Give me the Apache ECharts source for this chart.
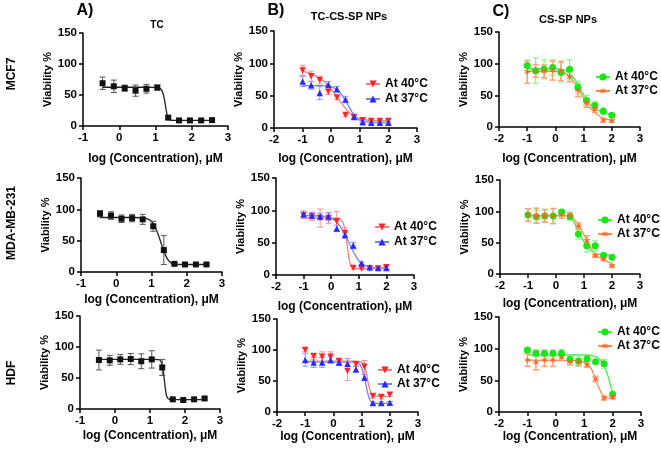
<!DOCTYPE html>
<html><head><meta charset="utf-8">
<script src="https://cdn.jsdelivr.net/npm/echarts@6/dist/echarts.min.js"></script>
<style>html,body{margin:0;padding:0;background:#fff}#c{width:661px;height:449px}</style>
</head><body><div id="c"></div>
<script>
// log concentrations
const xTC = [-0.46,-0.15,0.15,0.45,0.75,1.05,1.35,1.65,1.95,2.26,2.56];
const xNP = [-1,-0.7,-0.4,-0.1,0.2,0.5,0.8,1.1,1.4,1.7,2.0];
const yTicks = [0,50,100,150];

// Column A: TC
const tcMcf7 = [69,64,61,57,60,62,13.5,9,9,9,9.5];
const tcMcf7Err = [10,10,5,9,7,4,3,1,1,1,1];
const tcMcf7Fit = [[-0.46,62.5],[0.5,62.5],[1.0,62.4],[1.1,61.5],[1.17,58],[1.22,50],[1.26,38],[1.3,24],[1.34,14],[1.4,10],[1.5,9.2],[2.0,9],[2.6,9]];
const tcMda = [93,90,85,86,84,73,35,13,12,12,12];
const tcMdaErr = [5,6,6,6,8,8,23,1,1,1,1];
const tcMdaFit = [[-0.46,87],[0.5,87],[0.8,86],[0.95,83],[1.05,77],[1.15,66],[1.25,50],[1.35,33],[1.45,21],[1.55,15],[1.65,13],[1.8,12],[2.6,12]];
const tcHdf = [79,78.5,80,80.6,77,80,67,15.6,14.5,15.6,17];
const tcHdfErr = [16,8,8,9,12,14,13,1,1,1,1];
const tcHdfFit = [[-0.46,80],[1.0,80],[1.25,79.5],[1.3,78],[1.35,71],[1.4,52],[1.44,32],[1.48,20],[1.55,15.5],[1.7,15],[2.6,15]];

// Column B: TC-CS-SP NPs
const bMcf7At40 = [89,80,74,56,47,20,17,12,11,11,11];
const bMcf7At40Err = [8,8,6,4,3,2,2,3,3,3,3];
const bMcf7At40Fit = [[-1,88],[-0.7,84],[-0.4,77],[-0.2,70],[0,60],[0.2,48],[0.4,36],[0.6,25],[0.8,18],[1.0,14],[1.3,12],[2.0,11]];
const bMcf7At37 = [72,66,54,67,60,44,17,9,8,8,8];
const bMcf7At37Err = [8,6,10,5,4,5,2,2,2,2,2];
const bMcf7At37Fit = [[-1,65.5],[-0.4,65.5],[-0.1,65],[0.1,62],[0.3,55],[0.45,46],[0.6,35],[0.75,23],[0.9,15],[1.05,11],[1.3,9],[2.0,8]];
const bMdaAt40 = [92,90.5,88,88,83,65,11,10,10,10,12];
const bMdaAt40Err = [5,6,14,8,15,8,2,2,2,2,3];
const bMdaAt40Fit = [[-1,88],[0.2,88],[0.35,86],[0.45,78],[0.52,65],[0.58,45],[0.64,27],[0.7,16],[0.78,11.5],[0.9,10],[2.0,10]];
const bMdaAt37 = [94,92,90.5,90.5,72,62,45.5,18,12,11,11];
const bMdaAt37Err = [5,5,5,6,5,4,5,2,2,2,2];
const bMdaAt37Fit = [[-1,92],[-0.4,91],[0,88],[0.2,82],[0.4,70],[0.55,58],[0.7,45],[0.85,32],[1.0,22],[1.2,15],[1.5,11.5],[2.0,11]];
const bHdfAt40 = [100,90,89,89,82,66,77,73,26,24,28];
const bHdfAt40Err = [3,5,8,8,5,15,3,10,3,3,3];
const bHdfAt40Fit = [[-1,82],[0.8,82],[1.0,80],[1.1,74],[1.18,60],[1.25,43],[1.32,32],[1.4,27],[1.55,25.5],[2.0,25]];
const bHdfAt37 = [84,80,80,84,80,78,69,55.6,14.6,14.6,15];
const bHdfAt37Err = [10,8,8,5,5,8,5,5,2,2,2];
const bHdfAt37Fit = [[-1,81],[0.7,80.5],[0.9,78],[1.0,72],[1.08,60],[1.15,45],[1.22,30],[1.3,19],[1.38,15],[1.5,14],[2.0,14]];

// Column C: CS-SP NPs
const cMcf7At40 = [97,89,91,94,86,91,62.5,42,34,25,18.5];
const cMcf7At40Err = [8,20,15,12,15,15,10,8,6,5,3];
const cMcf7At40Fit = [[-1,92],[0,92],[0.3,90],[0.5,85],[0.7,74],[0.85,62],[1.0,51],[1.15,41],[1.3,33],[1.5,27],[1.7,23],[2.0,20]];
const cMcf7At37 = [87,88.5,88,89,88.5,79.5,58,38,28,10.6,9.5];
const cMcf7At37Err = [18,10,10,15,15,8,10,7,5,3,2];
const cMcf7At37Fit = [[-1,88],[0,88],[0.3,86],[0.5,80],[0.7,68],[0.85,57],[1.0,46],[1.15,36],[1.3,27],[1.5,19],[1.7,14],[2.0,10]];
const cMdaAt40 = [94,91.5,92.5,92.5,99,91.5,64,45,45,30,26.6];
const cMdaAt40Err = [10,10,10,12,3,5,8,10,8,2,2];
const cMdaAt40Fit = [[-1,93],[0.3,93],[0.5,90],[0.65,82],[0.8,68],[0.95,55],[1.1,44],[1.25,37],[1.4,33],[1.6,31],[2.0,30]];
const cMdaAt37 = [94,93,93,92.5,94,93,76.6,53,29,24.5,13];
const cMdaAt37Err = [10,12,10,12,5,5,5,8,2,3,2];
const cMdaAt37Fit = [[-1,93],[0.4,93],[0.6,89],[0.8,79],[0.95,67],[1.1,54],[1.25,42],[1.4,32],[1.55,26],[1.75,21],[2.0,17]];
const cHdfAt40 = [98,92.7,92.7,92.7,92.7,83,80.5,83.7,79.5,76,28];
const cHdfAt40Err = [3,5,5,5,6,5,8,2,3,7,3];
const cHdfAt40Fit = [[-1,90],[1.0,90],[1.3,89],[1.5,85],[1.65,78],[1.75,68],[1.85,55],[1.95,38],[2.03,27]];
const cHdfAt37 = [82,78.4,82,82,86,79.5,78.4,74,52,22,23];
const cHdfAt37Err = [10,12,10,10,5,5,5,3,4,3,2];
const cHdfAt37Fit = [[-1,82],[0.7,81.5],[0.9,80],[1.1,76],[1.25,68],[1.35,58],[1.45,46],[1.55,35],[1.65,27],[1.8,22.5],[2.03,21]];

const FONT = 'Liberation Sans, Arial, sans-serif';
const STY = {
  tc:     {mk:'#111111', fit:'#222222', err:'#555555', sym:'rect', size:6, ew:1},
  red:    {mk:'#ff2626', fit:'#ff7a7a', err:'#ff8f8f', sym:'path://M0,0L10,0L5,9Z', size:6.5, ew:1},
  blue:   {mk:'#2a2aff', fit:'#6f86ff', err:'#8a96ff', sym:'path://M5,0L10,9L0,9Z', size:6.5, ew:1},
  green:  {mk:'#17e617', fit:'#45ee45', err:'#8cf58c', sym:'circle', size:7, ew:1.2},
  orange: {mk:'#ff6322', fit:'#ff8a4a', err:'#ffa57a', sym:'path://M5,0L6,3.6L10,2L7,5L10,8L6,6.4L5,10L4,6.4L0,8L3,5L0,2L4,3.6Z', size:7, ew:1.6}
};

const panels = [
  {g:[83,33,145,93],  xr:[-1,3], yGap:28.5, xGap:27, sets:[['tc',xTC,tcMcf7,tcMcf7Err,tcMcf7Fit,null]]},
  {g:[274,31,143,97], xr:[-2,3], yGap:24.5, xGap:25, leg:[365,78,3], sets:[['red',xNP,bMcf7At40,bMcf7At40Err,bMcf7At40Fit,'At 40°C'],['blue',xNP,bMcf7At37,bMcf7At37Err,bMcf7At37Fit,'At 37°C']]},
  {g:[499,32,141,95], xr:[-2,3], yGap:24.5, xGap:26, leg:[595,71,2], sets:[['green',xNP,cMcf7At40,cMcf7At40Err,cMcf7At40Fit,'At 40°C'],['orange',xNP,cMcf7At37,cMcf7At37Err,cMcf7At37Fit,'At 37°C']]},
  {g:[81,178,141,94], xr:[-1,3], yGap:24.5, xGap:22, sets:[['tc',xTC,tcMda,tcMdaErr,tcMdaFit,null]]},
  {g:[276,178,138,97],xr:[-2,3], yGap:24.5, xGap:26, leg:[374,221,3], sets:[['red',xNP,bMdaAt40,bMdaAt40Err,bMdaAt40Fit,'At 40°C'],['blue',xNP,bMdaAt37,bMdaAt37Err,bMdaAt37Fit,'At 37°C']]},
  {g:[500,180,140,94],xr:[-2,3], yGap:26.5, xGap:24, leg:[597,214,2], sets:[['green',xNP,cMdaAt40,cMdaAt40Err,cMdaAt40Fit,'At 40°C'],['orange',xNP,cMdaAt37,cMdaAt37Err,cMdaAt37Fit,'At 37°C']]},
  {g:[80,316,140,93], xr:[-1,3], yGap:24.5, xGap:21, sets:[['tc',xTC,tcHdf,tcHdfErr,tcHdfFit,null]]},
  {g:[277,319,141,93],xr:[-2,3], yGap:27.5, xGap:19, leg:[377,364,2], sets:[['red',xNP,bHdfAt40,bHdfAt40Err,bHdfAt40Fit,'At 40°C'],['blue',xNP,bHdfAt37,bHdfAt37Err,bHdfAt37Fit,'At 37°C']]},
  {g:[499,317,142,95],xr:[-2,3], yGap:27.5, xGap:18, leg:[597,326,2], sets:[['green',xNP,cHdfAt40,cHdfAt40Err,cHdfAt40Fit,'At 40°C'],['orange',xNP,cHdfAt37,cHdfAt37Err,cHdfAt37Fit,'At 37°C']]}
];

const grid=[], xAxis=[], yAxis=[], series=[], legend=[];
const axLine = {show:true, onZero:false, lineStyle:{color:'#000', width:1.5}};
const axTick = {show:true, inside:false, length:4, lineStyle:{color:'#000', width:1.5}};
const lbl = {color:'#000', fontWeight:'bold', fontSize:11.5, fontFamily:FONT};
const ttl = {color:'#000', fontWeight:'bold', fontSize:12, fontFamily:FONT};
const ttlY = {color:'#000', fontWeight:'bold', fontSize:11, fontFamily:FONT};

panels.forEach((p,i)=>{
  grid.push({left:p.g[0], top:p.g[1], width:p.g[2], height:p.g[3], containLabel:false});
  xAxis.push({type:'value', gridIndex:i, min:p.xr[0], max:p.xr[1], interval:1,
    axisLine:axLine, axisTick:axTick, splitLine:{show:false},
    axisLabel:Object.assign({margin:6}, lbl),
    name:'log (Concentration), μM', nameLocation:'middle', nameGap:p.xGap, nameTextStyle:ttl});
  yAxis.push({type:'value', gridIndex:i, min:0, max:150, interval:50,
    axisLine:axLine, axisTick:axTick, splitLine:{show:false},
    axisLabel:Object.assign({margin:6}, lbl),
    name:'Viability %', nameLocation:'middle', nameGap:p.yGap, nameRotate:90, nameTextStyle:ttlY});
  const names=[];
  p.sets.forEach(s=>{
    const st = STY[s[0]];
    const xs=s[1], vs=s[2], es=s[3];
    const lname = s[5] ? s[5] + ' '.repeat(i) : undefined;
    if (lname) names.push(lname);
    series.push({type:'line', name:lname, xAxisIndex:i, yAxisIndex:i, data:s[4],
      smooth:0.3, showSymbol:false, symbol:st.sym, symbolSize:st.size,
      itemStyle:{color:st.mk}, lineStyle:{color:st.fit, width:1.3}, z:2, silent:true, animation:false});
    const errColor = st.err, ew = st.ew;
    series.push({type:'custom', xAxisIndex:i, yAxisIndex:i,
      data:xs.map((x,k)=>[x, vs[k]-es[k], vs[k]+es[k]]),
      encode:{x:0, y:[1,2]}, z:3, silent:true, animation:false,
      renderItem:function(params, api){
        const x=api.value(0), lo=api.value(1), hi=api.value(2);
        const a=api.coord([x,hi]), b=api.coord([x,lo]);
        const w=3, style={stroke:errColor, lineWidth:ew};
        return {type:'group', children:[
          {type:'line', shape:{x1:a[0],y1:a[1],x2:b[0],y2:b[1]}, style:style},
          {type:'line', shape:{x1:a[0]-w,y1:a[1],x2:a[0]+w,y2:a[1]}, style:style},
          {type:'line', shape:{x1:b[0]-w,y1:b[1],x2:b[0]+w,y2:b[1]}, style:style}
        ]};
      }});
    series.push({type:'scatter', xAxisIndex:i, yAxisIndex:i,
      data:xs.map((x,k)=>[x, vs[k]]), symbol:st.sym, symbolSize:st.size,
      itemStyle:{color:st.mk, opacity:1}, z:4, silent:true, animation:false});
  });
  if (p.leg) {
    legend.push({data:names, left:p.leg[0], top:p.leg[1], orient:'vertical', padding:0,
      itemWidth:14, itemHeight:9, itemGap:p.leg[2], selectedMode:false,
      textStyle:{color:'#000', fontWeight:'bold', fontSize:12, fontFamily:FONT}});
  }
});

function txt(t, x, y, size, rot){
  return {type:'text', x:x, y:y, rotation:rot||0, silent:true,
    style:{text:t, fill:'#000', font:'bold '+size+'px '+FONT, align:'center', verticalAlign:'middle', textAlign:'center', textVerticalAlign:'middle'}};
}
const graphic = [
  txt('A)', 85, 11, 16), txt('TC', 157, 25, 10),
  txt('B)', 276, 11, 16), txt('TC-CS-SP NPs', 349, 17, 11),
  txt('C)', 501, 12, 16), txt('CS-SP NPs', 568, 20, 11),
  txt('MCF7', 12, 74, 12, Math.PI/2),
  txt('MDA-MB-231', 12, 223, 12, Math.PI/2),
  txt('HDF', 12, 373, 12, Math.PI/2)
];

const chart = echarts.init(document.getElementById('c'), null, {renderer:'canvas'});
chart.setOption({backgroundColor:'#fff', animation:false, grid, xAxis, yAxis, series, legend, graphic});
</script></body></html>
